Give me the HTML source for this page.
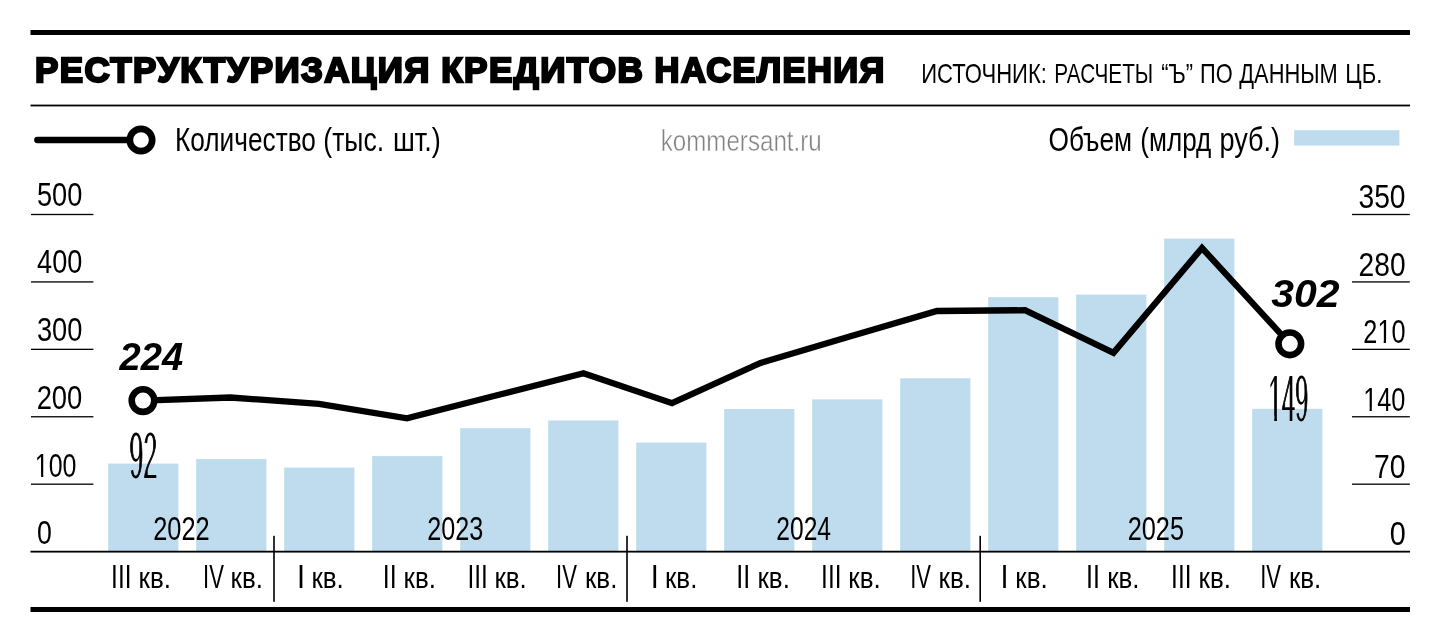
<!DOCTYPE html>
<html lang="ru">
<head>
<meta charset="utf-8">
<title>Реструктуризация кредитов населения</title>
<style>
html,body{margin:0;padding:0;background:#fff}
body{width:1440px;height:642px;overflow:hidden}
svg{display:block}
text{font-family:"Liberation Sans",sans-serif;white-space:pre}
</style>
</head>
<body>
<svg width="1440" height="642" viewBox="0 0 1440 642">
<rect width="1440" height="642" fill="#fff"/>
<defs><filter id="thin" x="-20%" y="-20%" width="140%" height="140%"><feMorphology operator="erode" radius="0 1.8"/></filter>
<clipPath id="c0"><path clip-rule="evenodd" d="M-500 -500H500V500H-500ZM0.98 -3.04H8.22V1.50H0.98Z M11.10 -3.04H17.97V1.50H11.10Z"/></clipPath>
<clipPath id="c1"><path clip-rule="evenodd" d="M-500 -500H500V500H-500ZM0.98 -3.04H8.22V1.50H0.98Z M11.10 -3.04H17.97V1.50H11.10Z"/></clipPath>
<clipPath id="c2"><path clip-rule="evenodd" d="M-500 -500H500V500H-500ZM19.15 -3.04H26.39V1.50H19.15Z M29.28 -3.04H36.15V1.50H29.28Z"/></clipPath>
<clipPath id="c3"><path clip-rule="evenodd" d="M-500 -500H500V500H-500ZM2.06 -6.63H16.40V2.39H2.06Z M24.26 -6.63H37.82V2.39H24.26Z"/></clipPath>
</defs>
<g id="shapes">
<rect x="108.2" y="463.6" width="70.2" height="88.0" fill="#BEDCED"/>
<rect x="196.2" y="459.1" width="70.2" height="92.5" fill="#BEDCED"/>
<rect x="284.2" y="467.6" width="70.2" height="84.0" fill="#BEDCED"/>
<rect x="372.2" y="456.1" width="70.2" height="95.5" fill="#BEDCED"/>
<rect x="460.2" y="428.2" width="70.2" height="123.4" fill="#BEDCED"/>
<rect x="548.2" y="420.4" width="70.2" height="131.2" fill="#BEDCED"/>
<rect x="636.2" y="442.6" width="70.2" height="109.0" fill="#BEDCED"/>
<rect x="724.2" y="409.0" width="70.2" height="142.6" fill="#BEDCED"/>
<rect x="812.2" y="399.4" width="70.2" height="152.2" fill="#BEDCED"/>
<rect x="900.2" y="378.3" width="70.2" height="173.3" fill="#BEDCED"/>
<rect x="988.2" y="297.2" width="70.2" height="254.4" fill="#BEDCED"/>
<rect x="1076.2" y="294.6" width="70.2" height="257.0" fill="#BEDCED"/>
<rect x="1164.2" y="238.6" width="70.2" height="313.0" fill="#BEDCED"/>
<rect x="1252.2" y="408.8" width="70.2" height="142.8" fill="#BEDCED"/>
<rect x="1294.2" y="130.2" width="105.2" height="15.4" fill="#BEDCED"/>
<rect x="30.5" y="30" width="1379.5" height="5" fill="#000"/>
<rect x="30.5" y="104.6" width="1379.5" height="1.8" fill="#000"/>
<rect x="30.5" y="607" width="1379.5" height="5" fill="#000"/>
<rect x="30.5" y="550.75" width="1379.5" height="1.8" fill="#000"/>
<rect x="31" y="483.53" width="62.4" height="1.3" fill="#000"/>
<rect x="1352" y="483.53" width="57.8" height="1.3" fill="#000"/>
<rect x="31" y="416.11" width="62.4" height="1.3" fill="#000"/>
<rect x="1352" y="416.11" width="57.8" height="1.3" fill="#000"/>
<rect x="31" y="348.69" width="62.4" height="1.3" fill="#000"/>
<rect x="1352" y="348.69" width="57.8" height="1.3" fill="#000"/>
<rect x="31" y="281.27" width="62.4" height="1.3" fill="#000"/>
<rect x="1352" y="281.27" width="57.8" height="1.3" fill="#000"/>
<rect x="31" y="213.85" width="62.4" height="1.3" fill="#000"/>
<rect x="1352" y="213.85" width="57.8" height="1.3" fill="#000"/>
<rect x="273.20" y="535.8" width="1.6" height="66" fill="#000"/>
<rect x="626.20" y="535.8" width="1.6" height="66" fill="#000"/>
<rect x="979.40" y="535.8" width="1.6" height="66" fill="#000"/>
<path d="M143.0 400.6 L230.5 397.5 L319.0 403.9 L407.0 418.4 L495.0 395.8 L583.5 373.2 L672.0 403.2 L760.5 363.0 L848.0 337.0 L937.0 311.0 L1025.0 310.2 L1113.5 352.9 L1202.0 248.0 L1289.8 343.8" fill="none" stroke="#000" stroke-width="6.3" stroke-linejoin="miter" stroke-miterlimit="10"/>
<circle cx="143.0" cy="400.6" r="11.3" fill="#fff" stroke="#000" stroke-width="6.6"/>
<circle cx="1289.8" cy="343.8" r="11.3" fill="#fff" stroke="#000" stroke-width="6.6"/>
<path d="M37.3 140 L130 140" fill="none" stroke="#000" stroke-width="6.3" stroke-linecap="round"/>
<circle cx="141" cy="140" r="11.2" fill="#fff" stroke="#000" stroke-width="6.7"/>
</g>
<g id="labels">
<text transform="translate(35.08 82.17) scale(1.0030 1)" font-size="34.83" font-weight="700" stroke="#000" stroke-width="2.26" stroke-linejoin="miter" letter-spacing="1.39">РЕСТРУКТУРИЗАЦИЯ</text>
<text transform="translate(441.27 82.17) scale(1.0082 1)" font-size="34.83" font-weight="700" stroke="#000" stroke-width="2.26" stroke-linejoin="miter" letter-spacing="1.39">КРЕДИТОВ</text>
<text transform="translate(654.59 82.17) scale(0.9910 1)" font-size="34.83" font-weight="700" stroke="#000" stroke-width="2.26" stroke-linejoin="miter" letter-spacing="1.39">НАСЕЛЕНИЯ</text>
<text transform="translate(921.23 83.10) scale(0.7847 1)" font-size="28.12">ИСТОЧНИК:</text>
<text transform="translate(1054.34 83.10) scale(0.7384 1)" font-size="28.12">РАСЧЕТЫ</text>
<text transform="translate(1161.14 83.10) scale(0.7755 1)" font-size="28.12">“Ъ”</text>
<text transform="translate(1200.05 83.10) scale(0.7762 1)" font-size="28.12">ПО</text>
<text transform="translate(1239.29 83.10) scale(0.7773 1)" font-size="28.12">ДАННЫМ</text>
<text transform="translate(1345.33 83.10) scale(0.7870 1)" font-size="28.12">ЦБ.</text>
<text transform="translate(175.00 150.70) scale(0.8121 1)" font-size="32.32">Количество</text>
<text transform="translate(323.30 150.70) scale(0.8232 1)" font-size="32.32">(тыс.</text>
<text transform="translate(392.99 150.70) scale(0.8428 1)" font-size="32.32">шт.)</text>
<text transform="translate(1048.52 150.70) scale(0.8123 1)" font-size="32.32">Объем</text>
<text transform="translate(1140.33 150.70) scale(0.8072 1)" font-size="32.32">(млрд</text>
<text transform="translate(1219.54 150.70) scale(0.8373 1)" font-size="32.32">руб.)</text>
<text transform="translate(660.64 150.70) scale(0.8040 1)" font-size="30.07" fill="#808285" stroke="#fff" stroke-width="0.48">kommersant.ru</text>
<text transform="translate(37.03 544.37) scale(0.8182 1)" font-size="32.68">0</text>
<text transform="translate(1389.65 545.37) scale(0.8827 1)" font-size="32.68">0</text>
<text transform="translate(34.83 476.87) scale(0.7636 1)" font-size="32.68" clip-path="url(#c0)">100</text>
<text transform="translate(1374.09 477.95) scale(0.8659 1)" font-size="32.68">70</text>
<text transform="translate(36.63 408.77) scale(0.8387 1)" font-size="32.68">200</text>
<text transform="translate(1363.19 410.53) scale(0.7756 1)" font-size="32.68" clip-path="url(#c1)">140</text>
<text transform="translate(36.91 341.07) scale(0.8334 1)" font-size="32.68">300</text>
<text transform="translate(1363.34 343.11) scale(0.7728 1)" font-size="32.68" clip-path="url(#c2)">210</text>
<text transform="translate(37.12 273.47) scale(0.8294 1)" font-size="32.68">400</text>
<text transform="translate(1358.59 275.69) scale(0.8619 1)" font-size="32.68">280</text>
<text transform="translate(37.01 206.07) scale(0.8315 1)" font-size="32.68">500</text>
<text transform="translate(1358.47 208.27) scale(0.8642 1)" font-size="32.68">350</text>
<text transform="translate(153.13 539.78) scale(0.7859 1)" font-size="32.39">2022</text>
<text transform="translate(427.34 539.78) scale(0.7768 1)" font-size="32.39">2023</text>
<text transform="translate(776.27 539.78) scale(0.7599 1)" font-size="32.39">2024</text>
<text transform="translate(1127.63 539.78) scale(0.7837 1)" font-size="32.39">2025</text>
<text transform="translate(111.10 587.50) scale(0.7403 1)" font-size="33.04">III</text>
<text transform="translate(138.61 587.50) scale(0.8765 1)" font-size="29.62">кв.</text>
<text transform="translate(203.01 587.50) scale(0.6676 1)" font-size="33.04">IV</text>
<text transform="translate(230.61 587.50) scale(0.8765 1)" font-size="29.62">кв.</text>
<text transform="translate(297.09 587.50) scale(0.8760 1)" font-size="33.04">I</text>
<text transform="translate(311.41 587.50) scale(0.8765 1)" font-size="29.62">кв.</text>
<text transform="translate(382.74 587.50) scale(0.7586 1)" font-size="33.04">II</text>
<text transform="translate(403.61 587.50) scale(0.8765 1)" font-size="29.62">кв.</text>
<text transform="translate(467.50 587.50) scale(0.7403 1)" font-size="33.04">III</text>
<text transform="translate(494.41 587.50) scale(0.8765 1)" font-size="29.62">кв.</text>
<text transform="translate(556.01 587.50) scale(0.6676 1)" font-size="33.04">IV</text>
<text transform="translate(585.01 587.50) scale(0.8765 1)" font-size="29.62">кв.</text>
<text transform="translate(650.69 587.50) scale(0.8760 1)" font-size="33.04">I</text>
<text transform="translate(665.01 587.50) scale(0.8765 1)" font-size="29.62">кв.</text>
<text transform="translate(736.34 587.50) scale(0.7586 1)" font-size="33.04">II</text>
<text transform="translate(757.51 587.50) scale(0.8765 1)" font-size="29.62">кв.</text>
<text transform="translate(821.10 587.50) scale(0.7403 1)" font-size="33.04">III</text>
<text transform="translate(848.31 587.50) scale(0.8765 1)" font-size="29.62">кв.</text>
<text transform="translate(910.21 587.50) scale(0.6676 1)" font-size="33.04">IV</text>
<text transform="translate(938.61 587.50) scale(0.8765 1)" font-size="29.62">кв.</text>
<text transform="translate(1000.49 587.50) scale(0.8760 1)" font-size="33.04">I</text>
<text transform="translate(1015.31 587.50) scale(0.8765 1)" font-size="29.62">кв.</text>
<text transform="translate(1086.04 587.50) scale(0.7586 1)" font-size="33.04">II</text>
<text transform="translate(1107.21 587.50) scale(0.8765 1)" font-size="29.62">кв.</text>
<text transform="translate(1171.10 587.50) scale(0.7403 1)" font-size="33.04">III</text>
<text transform="translate(1198.61 587.50) scale(0.8765 1)" font-size="29.62">кв.</text>
<text transform="translate(1260.21 587.50) scale(0.6676 1)" font-size="33.04">IV</text>
<text transform="translate(1288.91 587.50) scale(0.8765 1)" font-size="29.62">кв.</text>
<text transform="translate(119.57 370.00) scale(0.9872 1)" font-size="38.57" font-weight="700" font-style="italic">224</text>
<text transform="translate(1271.29 306.82) scale(1.0694 1)" font-size="38.31" font-weight="700" font-style="italic">302</text>
<text transform="translate(129.22 478.73) scale(0.3671 1)" font-size="68.63" stroke="#000" stroke-width="1.78" stroke-linejoin="miter" filter="url(#thin)">92</text>
<text transform="translate(1268.57 422.32) scale(0.3471 1)" font-size="68.77" stroke="#000" stroke-width="1.79" stroke-linejoin="miter" filter="url(#thin)" clip-path="url(#c3)">149</text>
</g>
</svg>
</body>
</html>
